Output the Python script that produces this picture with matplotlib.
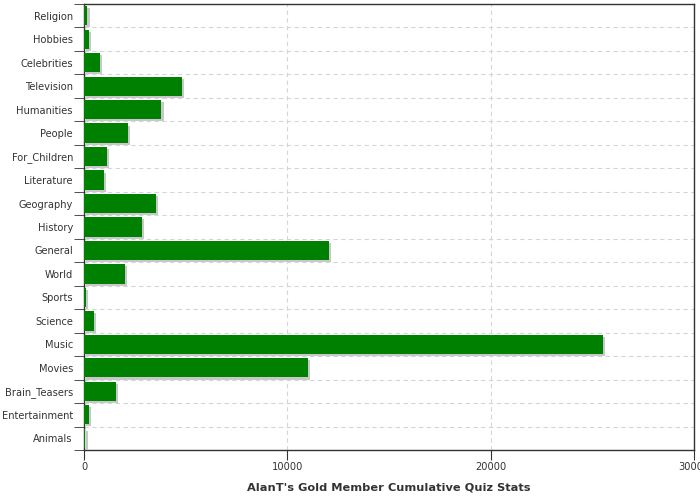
import matplotlib
matplotlib.use("Agg")
import matplotlib.pyplot as plt
import matplotlib.patheffects as pe
import numpy as np

categories = ["Religion", "Hobbies", "Celebrities", "Television", "Humanities", "People",
              "For_Children", "Literature", "Geography", "History", "General", "World",
              "Sports", "Science", "Music", "Movies", "Brain_Teasers", "Entertainment", "Animals"]
values = [170, 260, 800, 4840, 3810, 2180, 1150, 1000, 3560, 2870, 12040, 2030,
          110, 510, 25530, 11000, 1590, 260, 70]
xticks = [0, 10000, 20000, 30000]
xlabel = "AlanT's Gold Member Cumulative Quiz Stats"

fig = plt.figure(figsize=(7, 5), dpi=100)
ax = fig.add_axes([84/700, 1-450/500, (694-84)/700, (450-4)/500])

y = np.arange(len(categories))
bars = ax.barh(y, values, height=0.82, color="#008000", zorder=3)
for b in bars:
    b.set_path_effects([pe.SimplePatchShadow(offset=(1.5, -1.5), shadow_rgbFace="#c8c8c8", alpha=1.0),
                        pe.Normal()])

ax.set_xlim(0, 30000)
ax.set_ylim(len(categories) - 0.5, -0.5)
ax.set_yticks(y)
ax.set_yticklabels(categories, fontsize=7.1, color="#333333")
ax.set_yticks(np.arange(-0.5, len(categories), 1), minor=True)
ax.tick_params(axis="y", which="major", length=0, pad=8)
ax.tick_params(axis="y", which="minor", length=7.5, color="#333333")
ax.set_xticks(xticks)
ax.set_xticklabels([str(v) for v in xticks], fontsize=7.1, color="#333333")
ax.tick_params(axis="x", length=7, color="#333333", pad=2)

ax.grid(True, axis="x", which="major", linestyle=(0, (4, 3)), color="#d0d8dc", linewidth=0.8, zorder=0)
ax.grid(True, axis="y", which="minor", linestyle=(0, (4, 3)), color="#d0d8dc", linewidth=0.8, zorder=0)
ax.grid(False, axis="y", which="major")

for s in ax.spines.values():
    s.set_color("#333333")
    s.set_linewidth(1.0)

ax.set_xlabel(xlabel, fontsize=8.2, fontweight="bold", color="#333333", labelpad=7)

fig.savefig("out.png", dpi=100)
